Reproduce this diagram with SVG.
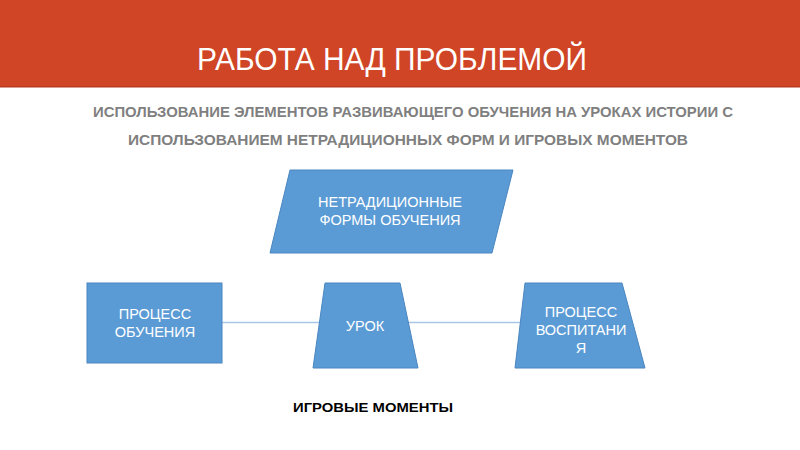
<svg xmlns="http://www.w3.org/2000/svg" width="800" height="450" viewBox="0 0 800 450">
<style>
.shape{fill:#5B9BD5;stroke:#4A86C0;stroke-width:1}
.lbl{font-family:"Liberation Sans",Arial,sans-serif;font-size:14.5px;fill:#ffffff;text-anchor:middle}
.sub{font-family:"Liberation Sans",Arial,sans-serif;font-size:14px;font-weight:bold;fill:#7F7F7F;text-anchor:middle}
</style>
<rect x="0" y="0" width="800" height="450" fill="#ffffff"/>
<rect x="0" y="0" width="800" height="86" fill="#CF4526"/>
<rect x="0" y="86" width="800" height="1.5" fill="#B83A1F"/>
<text x="392" y="70" font-family="'Liberation Sans',Arial,sans-serif" font-size="31" fill="#ffffff" text-anchor="middle" textLength="390" lengthAdjust="spacingAndGlyphs">РАБОТА НАД ПРОБЛЕМОЙ</text>
<text class="sub" x="413" y="117" textLength="640" lengthAdjust="spacingAndGlyphs">ИСПОЛЬЗОВАНИЕ ЭЛЕМЕНТОВ РАЗВИВАЮЩЕГО ОБУЧЕНИЯ НА УРОКАХ ИСТОРИИ С</text>
<text class="sub" x="408" y="145" textLength="560" lengthAdjust="spacingAndGlyphs">ИСПОЛЬЗОВАНИЕМ НЕТРАДИЦИОННЫХ ФОРМ И ИГРОВЫХ МОМЕНТОВ</text>
<g id="connectors">
<line x1="222" y1="322.5" x2="522" y2="322.5" stroke="#A9C6E6" stroke-width="1.5"/>
</g>
<g id="node-forms">
<polygon class="shape" points="290,170 513,170 492,253 270,253"/>
<text class="lbl" x="390" y="207">НЕТРАДИЦИОННЫЕ</text>
<text class="lbl" x="390" y="225">ФОРМЫ ОБУЧЕНИЯ</text>
</g>
<g id="node-learning">
<rect class="shape" x="87" y="283" width="135" height="80"/>
<text class="lbl" x="155" y="319">ПРОЦЕСС</text>
<text class="lbl" x="155" y="337">ОБУЧЕНИЯ</text>
</g>
<g id="node-lesson">
<polygon class="shape" points="325,283 400,283 418,368 313,368"/>
<text class="lbl" x="365" y="331">УРОК</text>
</g>
<g id="node-upbringing">
<polygon class="shape" points="525,283 622,283 645,368 515,368"/>
<text class="lbl" x="581" y="317">ПРОЦЕСС</text>
<text class="lbl" x="581" y="335">ВОСПИТАНИ</text>
<text class="lbl" x="581" y="353">Я</text>
</g>
<text x="373" y="412" font-family="'Liberation Sans',Arial,sans-serif" font-size="13" font-weight="bold" fill="#000000" text-anchor="middle" textLength="160" lengthAdjust="spacingAndGlyphs">ИГРОВЫЕ МОМЕНТЫ</text>
</svg>
